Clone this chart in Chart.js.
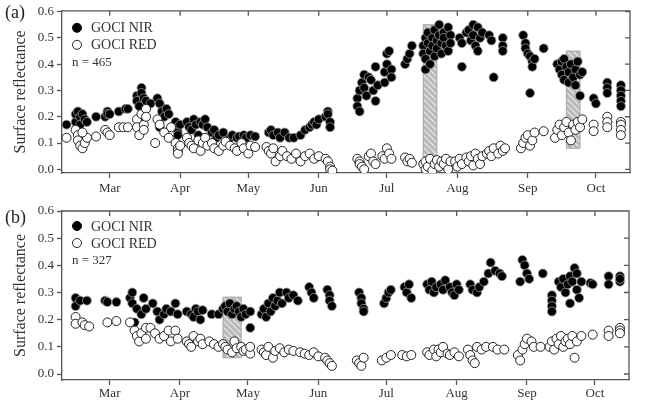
<!DOCTYPE html>
<html>
<head>
<meta charset="utf-8">
<script src="https://cdn.jsdelivr.net/npm/chart.js@4.4.1/dist/chart.umd.min.js"></script>
<style>
  body { margin: 0; background: #fff; }
  canvas { position: absolute; left: 0; }
</style>
</head>
<body>
<canvas id="chart-a" width="661" height="200" style="top:0"></canvas>
<canvas id="chart-b" width="661" height="203" style="top:200px"></canvas>
<script>
// x = day of year, ticks at the first of each month
const monthDays = [60, 91, 121, 152, 182, 213, 244, 274];
const monthLabels = ['Mar', 'Apr', 'May', 'Jun', 'Jul', 'Aug', 'Sep', 'Oct'];
const yTicks = [0, 0.1, 0.2, 0.3, 0.4, 0.5, 0.6];

// (a) n = 465
const nirA = [
  [41,0.17],[45,0.18],[45,0.21],[46,0.22],[47,0.20],[47,0.17],[48,0.21],[49,0.19],[50,0.18],
  [54,0.20],[58,0.20],[59,0.22],[59,0.21],[60,0.21],[64,0.22],[67,0.23],[68,0.23],
  [72,0.28],[72,0.26],[73,0.24],[74,0.31],[74,0.29],[74,0.19],[75,0.27],[76,0.26],[76,0.23],
  [78,0.25],[81,0.27],[82,0.25],[82,0.16],[83,0.22],[84,0.20],[85,0.23],[86,0.21],
  [89,0.18],[90,0.16],[90,0.14],[90,0.13],[91,0.17],
  [94,0.18],[95,0.16],[96,0.15],[97,0.19],[98,0.17],[99,0.13],[100,0.18],[101,0.17],[102,0.19],[103,0.16],
  [105,0.14],[106,0.15],[107,0.12],[108,0.13],[110,0.14],
  [113,0.12],[114,0.13],[116,0.12],[117,0.125],[119,0.13],[120,0.12],[122,0.13],[124,0.125],
  [130,0.14],[131,0.15],[132,0.13],[134,0.14],[135,0.12],[137,0.14],[139,0.12],[141,0.12],
  [144,0.13],[146,0.15],[148,0.16],[149,0.17],[150,0.18],[151,0.17],[152,0.19],
  [155,0.20],[156,0.22],[156,0.21],[157,0.18],[157,0.16],
  [169,0.27],[169,0.24],[170,0.22],[170,0.30],[171,0.33],[172,0.36],[172,0.31],[173,0.28],
  [174,0.35],[175,0.34],[176,0.30],[177,0.39],[177,0.26],[178,0.32],
  [181,0.33],[181,0.37],[182,0.40],[182,0.44],[183,0.45],[184,0.38],[184,0.35],
  [190,0.40],[191,0.42],[192,0.44],[193,0.47],
  [198,0.47],[198,0.44],[199,0.50],[199,0.42],[199,0.38],[200,0.52],[200,0.48],[201,0.45],[201,0.40],
  [202,0.50],[202,0.47],[203,0.53],[203,0.43],[204,0.49],[204,0.46],[205,0.55],[205,0.51],[206,0.48],
  [206,0.44],[207,0.52],[207,0.50],[208,0.47],[209,0.54],[209,0.45],[210,0.51],[210,0.48],
  [214,0.50],[215,0.48],[215,0.39],[217,0.52],
  [218,0.53],[219,0.49],[220,0.55],[220,0.51],[221,0.47],[222,0.54],[222,0.45],[223,0.50],[224,0.52],
  [227,0.51],[228,0.49],[229,0.35],[233,0.50],[233,0.47],[233,0.45],
  [242,0.51],[243,0.48],[243,0.46],[244,0.44],[245,0.43],[245,0.29],[246,0.41],[246,0.39],[247,0.42],
  [251,0.46],
  [257,0.40],[258,0.38],[259,0.41],[259,0.36],[260,0.42],[260,0.34],[261,0.39],[262,0.37],[262,0.33],
  [263,0.40],[264,0.35],[265,0.38],[265,0.32],[266,0.41],[267,0.36],[267,0.28],[268,0.37],
  [273,0.27],[274,0.25],[279,0.33],[279,0.31],[279,0.29],
  [285,0.32],[285,0.30],[285,0.28],[285,0.26],[285,0.24]
];
const redA = [
  [41,0.12],[45,0.15],[46,0.13],[46,0.11],[47,0.09],[48,0.08],[49,0.10],[50,0.12],[48,0.14],
  [54,0.125],[58,0.15],[59,0.14],[60,0.13],[64,0.16],[66,0.16],[68,0.16],
  [72,0.19],[72,0.16],[73,0.13],[74,0.21],[75,0.17],[75,0.15],[76,0.23],[76,0.20],
  [80,0.10],[81,0.19],[82,0.17],[84,0.14],[86,0.12],[87,0.16],
  [89,0.10],[90,0.08],[90,0.07],[90,0.06],[91,0.09],
  [94,0.12],[95,0.10],[96,0.09],[97,0.08],[99,0.11],[100,0.07],[101,0.10],[102,0.12],[103,0.09],
  [105,0.10],[106,0.08],[108,0.07],[110,0.09],[111,0.105],
  [113,0.09],[115,0.08],[116,0.07],[118,0.10],[119,0.08],[121,0.06],[122,0.09],[124,0.085],
  [129,0.085],[130,0.07],[131,0.06],[132,0.08],[133,0.03],[135,0.05],[136,0.07],
  [138,0.05],[140,0.04],[142,0.06],[144,0.03],[146,0.05],[148,0.06],[150,0.04],[152,0.05],
  [155,0.04],[156,0.03],[157,0.01],[157,0.0],[158,-0.005],
  [169,0.04],[170,0.03],[170,0.02],[171,0.01],[172,0.0],[174,0.05],[175,0.06],[176,0.03],[177,0.02],
  [180,0.05],[181,0.04],[182,0.08],[183,0.06],[184,0.04],
  [190,0.045],[191,0.03],[192,0.04],[193,0.025],
  [198,0.02],[199,0.0],[199,0.03],[200,0.01],[201,0.04],[202,-0.005],[203,0.02],[204,0.035],
  [205,0.01],[206,0.03],[207,0.02],[208,0.04],[209,0.0],[210,0.03],
  [212,0.03],[213,0.01],[214,0.04],[215,0.02],[217,0.045],[218,0.03],[219,0.05],[220,0.015],
  [221,0.06],[222,0.04],[223,0.02],[224,0.05],
  [226,0.06],[227,0.07],[228,0.05],[229,0.08],[231,0.06],[232,0.09],[233,0.07],[234,0.08],
  [241,0.08],[242,0.10],[243,0.12],[244,0.13],[245,0.09],[246,0.11],[247,0.14],[251,0.145],
  [256,0.12],[257,0.15],[258,0.17],[259,0.13],[260,0.16],[261,0.18],[262,0.14],[263,0.11],
  [264,0.17],[265,0.15],[266,0.18],[267,0.16],[268,0.19],
  [273,0.17],[273,0.145],[279,0.20],[279,0.18],[279,0.16],
  [285,0.18],[285,0.17],[285,0.15],[285,0.13]
];

// (b) n = 327
const nirB = [
  [45,0.28],[45,0.25],[47,0.27],[50,0.27],[58,0.27],[59,0.265],[63,0.265],
  [69,0.28],[70,0.30],[70,0.26],[71,0.19],[72,0.24],[74,0.22],[75,0.28],[76,0.24],[79,0.26],
  [81,0.23],[82,0.20],[84,0.22],[85,0.24],[87,0.23],[89,0.26],[90,0.22],
  [94,0.23],[96,0.22],[97,0.21],[98,0.24],[99,0.23],[100,0.20],[101,0.235],[105,0.22],[108,0.22],
  [110,0.24],[111,0.25],[112,0.23],[113,0.26],[114,0.22],[115,0.24],[116,0.25],[117,0.23],
  [118,0.21],[119,0.24],[120,0.22],[122,0.23],[122,0.17],
  [127,0.22],[128,0.24],[129,0.21],[130,0.26],[131,0.23],[132,0.28],[133,0.25],[134,0.27],
  [135,0.30],[136,0.26],[138,0.30],[139,0.28],[141,0.29],[143,0.27],
  [148,0.32],[149,0.30],[150,0.28],[156,0.31],[157,0.29],[157,0.27],[158,0.25],
  [170,0.30],[171,0.28],[171,0.26],[172,0.24],[172,0.23],
  [181,0.26],[182,0.28],[183,0.30],[184,0.31],[190,0.32],[191,0.30],[192,0.33],[193,0.28],
  [200,0.33],[201,0.31],[202,0.34],[203,0.30],[204,0.32],[206,0.33],[207,0.31],[208,0.345],
  [210,0.32],[211,0.30],[212,0.29],[213,0.33],[214,0.31],[219,0.33],[220,0.31],[222,0.30],[223,0.32],
  [225,0.34],[227,0.37],[228,0.41],[230,0.38],[232,0.37],[233,0.36],
  [241,0.34],[242,0.42],[243,0.40],[244,0.37],[245,0.35],[251,0.37],
  [255,0.29],[255,0.27],[255,0.25],[255,0.23],
  [258,0.34],[259,0.32],[260,0.35],[261,0.30],[262,0.33],[263,0.36],[263,0.26],[264,0.34],
  [265,0.39],[266,0.31],[266,0.37],[267,0.28],[268,0.34],
  [272,0.335],[273,0.33],[280,0.36],[280,0.33],[285,0.36],[285,0.34],[285,0.35]
];
const redB = [
  [45,0.21],[45,0.185],[48,0.19],[49,0.18],[51,0.175],[59,0.19],[63,0.195],[69,0.19],
  [71,0.16],[72,0.14],[73,0.12],[74,0.15],[76,0.13],[76,0.17],
  [78,0.17],[80,0.15],[82,0.13],[84,0.14],[86,0.16],[87,0.12],[89,0.16],[90,0.13],
  [94,0.12],[95,0.11],[96,0.10],[97,0.14],[99,0.12],[100,0.13],[101,0.11],[104,0.12],[106,0.11],[108,0.10],
  [110,0.11],[111,0.10],[112,0.09],[114,0.08],[115,0.12],[116,0.095],[118,0.10],[119,0.085],
  [120,0.09],[122,0.075],[122,0.10],
  [127,0.09],[128,0.08],[129,0.07],[130,0.10],[132,0.06],[133,0.085],[135,0.095],[137,0.08],
  [139,0.09],[141,0.085],[144,0.08],[146,0.075],[148,0.07],[150,0.08],[152,0.065],
  [155,0.06],[156,0.05],[157,0.04],[158,0.03],[169,0.05],[170,0.04],[171,0.03],[172,0.06],
  [180,0.05],[182,0.06],[184,0.07],[189,0.07],[191,0.065],[193,0.07],
  [200,0.08],[201,0.07],[203,0.09],[204,0.065],[205,0.09],[206,0.08],[207,0.10],[209,0.075],
  [210,0.07],[212,0.08],[214,0.065],
  [218,0.09],[219,0.07],[220,0.05],[221,0.04],[222,0.10],[224,0.09],[226,0.10],[229,0.10],[231,0.09],[234,0.09],
  [240,0.07],[241,0.05],[242,0.09],[243,0.11],[244,0.13],[246,0.12],[247,0.10],[250,0.10],
  [254,0.10],[255,0.12],[256,0.09],[257,0.13],[258,0.11],[259,0.14],[260,0.10],[261,0.12],
  [262,0.13],[263,0.11],[264,0.14],[265,0.06],[266,0.12],[268,0.14],
  [273,0.145],[280,0.16],[280,0.14],[285,0.17],[285,0.16],[285,0.15]
];

// hatched periods: [dayFrom, dayTo, yFrom, yTo]
const hatchA = [[198, 204, -0.02, 0.55], [261, 267, 0.08, 0.45]];
const hatchB = [[110, 118, 0.06, 0.283]];

const serif = "'Liberation Serif', 'Times New Roman', serif";
const axisColor = '#555';
const textColor = '#333';

function hatchPattern(ctx) {
  const c = document.createElement('canvas');
  c.width = 6; c.height = 6;
  const g = c.getContext('2d');
  g.fillStyle = '#b9b9b9';
  g.fillRect(0, 0, 6, 6);
  g.strokeStyle = '#ececec';
  g.lineWidth = 1.1;
  g.beginPath();
  g.moveTo(0, 0); g.lineTo(6, 6);
  g.moveTo(-3, 3); g.lineTo(3, 9);
  g.moveTo(3, -3); g.lineTo(9, 3);
  g.stroke();
  return ctx.createPattern(c, 'repeat');
}

// hatched boxes, frame, mirror ticks, legend and panel letter
const panelDecor = {
  id: 'panelDecor',
  beforeDatasetsDraw(chart, args, opts) {
    const {ctx, chartArea: a, scales: {x, y}} = chart;
    ctx.save();
    const pat = hatchPattern(ctx);
    opts.boxes.forEach(b => {
      const l = x.getPixelForValue(b[0]);
      const r = x.getPixelForValue(b[1]);
      const t = y.getPixelForValue(b[3]);
      const bt = Math.min(y.getPixelForValue(b[2]), a.bottom);
      ctx.fillStyle = pat;
      ctx.fillRect(l, t, r - l, bt - t);
      ctx.strokeStyle = '#a5a5a5';
      ctx.lineWidth = 1;
      ctx.strokeRect(l, t, r - l, bt - t);
    });
    ctx.restore();
  },
  afterDraw(chart, args, opts) {
    const {ctx, chartArea: a, scales: {x, y}} = chart;
    ctx.save();
    ctx.strokeStyle = axisColor;
    ctx.lineWidth = 1.3;
    ctx.beginPath();
    ctx.moveTo(a.left, a.top);
    ctx.lineTo(a.right, a.top);
    ctx.lineTo(a.right, a.bottom);
    monthDays.forEach(d => {
      const px = x.getPixelForValue(d);
      ctx.moveTo(px, a.top);
      ctx.lineTo(px, a.top + 5);
    });
    yTicks.forEach(v => {
      const py = y.getPixelForValue(v);
      ctx.moveTo(a.right, py);
      ctx.lineTo(a.right - 5, py);
    });
    ctx.stroke();

    ctx.fillStyle = '#222';
    ctx.textBaseline = 'alphabetic';
    ctx.font = '18px ' + serif;
    ctx.fillText(opts.letter, 5, opts.letterY);

    // legend
    const lx = a.left + 15;
    const rows = [a.top + opts.legendTop, a.top + opts.legendTop + 17];
    chart.data.datasets.slice().sort((p, q) => p.legendRank - q.legendRank).forEach((ds, i) => {
      ctx.beginPath();
      ctx.arc(lx, rows[i], 4.5, 0, Math.PI * 2);
      ctx.fillStyle = ds.backgroundColor;
      ctx.fill();
      ctx.lineWidth = 1;
      ctx.strokeStyle = ds.legendStroke;
      ctx.stroke();
      ctx.fillStyle = textColor;
      ctx.textBaseline = 'middle';
      ctx.font = '14px ' + serif;
      ctx.fillText(ds.label, lx + 14, rows[i] + 1);
    });
    ctx.font = '13px ' + serif;
    ctx.fillText(opts.count, lx - 5, rows[1] + 18);
    ctx.restore();
  }
};

function makeChart(id, nir, red, boxes, p) {
  const tickFont = {family: serif, size: 13};
  return new Chart(document.getElementById(id), {
    type: 'scatter',
    data: {
      datasets: [
        {
          label: 'GOCI NIR', legendRank: 0, legendStroke: '#000',
          data: nir.map(d => ({x: d[0], y: d[1]})),
          backgroundColor: '#000', borderColor: '#9d9d9d', borderWidth: 0.8,
          pointRadius: 4.5, order: 2
        },
        {
          label: 'GOCI RED', legendRank: 1, legendStroke: '#222',
          data: red.map(d => ({x: d[0], y: d[1]})),
          backgroundColor: '#fff', borderColor: '#222', borderWidth: 1,
          pointRadius: 4.5, order: 1
        }
      ]
    },
    options: {
      responsive: false,
      animation: false,
      events: [],
      layout: {padding: {top: p.top, right: p.right, left: 0, bottom: 0}},
      plugins: {
        legend: {display: false},
        tooltip: {enabled: false},
        panelDecor: {boxes: boxes, letter: p.letter, letterY: p.letterY, count: p.count, legendTop: p.legendTop}
      },
      scales: {
        x: {
          type: 'linear', min: 39, max: 289,
          afterFit: s => { s.height = p.xHeight; },
          afterBuildTicks: s => { s.ticks = monthDays.map(v => ({value: v})); },
          ticks: {
            callback: v => monthLabels[monthDays.indexOf(v)],
            font: tickFont, color: textColor, padding: p.xPad, maxRotation: 0, autoSkip: false
          },
          grid: {drawOnChartArea: false, tickLength: 5, tickColor: axisColor, tickWidth: 1.3},
          border: {color: axisColor, width: 1.3}
        },
        y: {
          min: p.yMin, max: p.yMax,
          afterFit: s => { s.width = 62; },
          afterBuildTicks: s => { s.ticks = yTicks.map(v => ({value: v})); },
          ticks: {callback: v => v.toFixed(1), font: tickFont, color: textColor, padding: 3},
          title: {
            display: true, text: 'Surface reflectance',
            font: {family: serif, size: 16}, color: textColor,
            padding: {top: 11, bottom: 0}
          },
          grid: {drawOnChartArea: false, tickLength: 5, tickColor: axisColor, tickWidth: 1.3},
          border: {color: axisColor, width: 1.3}
        }
      }
    },
    plugins: [panelDecor]
  });
}

makeChart('chart-a', nirA, redA, hatchA, {
  top: 5, right: 31, xHeight: 27, xPad: 3, yMin: -0.014, yMax: 0.603,
  letter: '(a)', letterY: 18, count: 'n = 465', legendTop: 17
});
makeChart('chart-b', nirB, redB, hatchB, {
  top: 11, right: 32, xHeight: 23, xPad: 1, yMin: -0.022, yMax: 0.6,
  letter: '(b)', letterY: 23, count: 'n = 327', legendTop: 15
});
</script>
</body>
</html>
